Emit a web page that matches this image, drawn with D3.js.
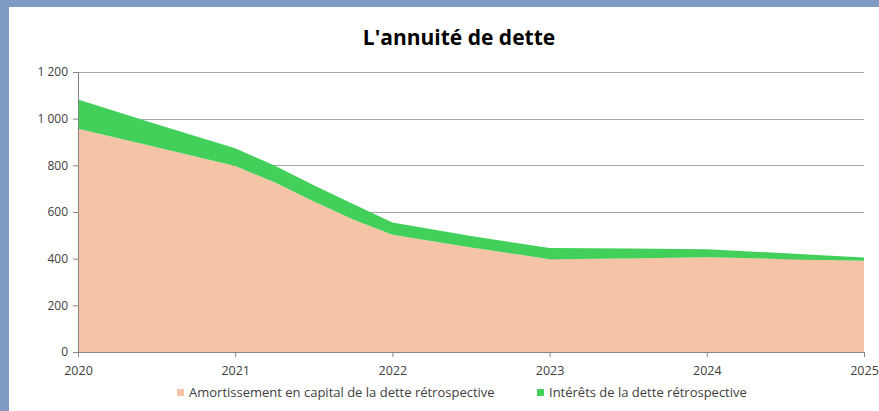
<!DOCTYPE html>
<html>
<head>
<meta charset="utf-8">
<script src="https://cdn.jsdelivr.net/npm/d3@7"></script>
<style>
  html, body { margin: 0; padding: 0; background: #7f9bc3; }
  svg { display: block; }
  .tick text { font-family: "Open Sans", sans-serif; fill: #404040; }
</style>
</head>
<body>
<svg id="chart"></svg>
<script>
// time points (years)
var years = [2020, 2020.5, 2021, 2021.25, 2021.5, 2021.75, 2022, 2022.5, 2023, 2023.5, 2024, 2024.5, 2025];
var amortissement = [957, 878, 797, 727, 645, 568, 503, 448, 398, 401, 406, 398, 391];
var interets = [125, 98, 76, 72, 70, 66, 52, 49, 48, 43, 34, 25, 14];
var xTicks = [2020, 2021, 2022, 2023, 2024, 2025];
var yTicks = [0, 200, 400, 600, 800, 1000, 1200];
var seriesNames = ["Amortissement en capital de la dette rétrospective", "Intérêts de la dette rétrospective"];
var colors = ["#f5c4a7", "#43d05a"];

var W = 879, H = 411;
var margin = { top: 72, right: 15, bottom: 59, left: 78 },
    width = W - margin.left - margin.right,
    height = H - margin.top - margin.bottom;

var svg = d3.select("#chart").attr("width", W).attr("height", H);

// white chart panel inside the blue frame
svg.append("rect")
    .attr("x", 9).attr("y", 7)
    .attr("width", W - 9).attr("height", H - 7)
    .attr("fill", "#fff");

svg.append("text")
    .attr("x", 459).attr("y", 45)
    .attr("text-anchor", "middle")
    .style("font-family", "Open Sans, sans-serif")
    .style("font-weight", "bold")
    .style("font-size", "21px")
    .attr("fill", "#000")
    .text("L'annuité de dette");

var g = svg.append("g").attr("transform", "translate(" + margin.left + "," + margin.top + ")");

var x = d3.scaleLinear().domain([2020, 2025]).range([0, width]);
var y = d3.scaleLinear().domain([0, 1200]).range([height, 0]);

// gridlines
g.append("g")
    .selectAll("line")
    .data(yTicks.filter(d => d > 0))
    .enter().append("line")
    .attr("x1", 0).attr("x2", width)
    .attr("y1", d => Math.round(y(d)) + 0.5).attr("y2", d => Math.round(y(d)) + 0.5)
    .attr("stroke", "#a6a6a6");

var data = years.map((yr, i) => ({ year: yr, a: amortissement[i], b: interets[i] }));
var stacked = d3.stack().keys(["a", "b"])(data);

var area = d3.area()
    .x(d => x(d.data.year))
    .y0(d => y(d[0]))
    .y1(d => y(d[1]));

g.selectAll(".layer")
    .data(stacked)
    .enter().append("path")
    .attr("class", "layer")
    .attr("fill", (d, i) => colors[i])
    .attr("d", area);

// axes
var yAxis = g.append("g")
    .call(d3.axisLeft(y).tickValues(yTicks).tickSize(5).tickPadding(5)
        .tickFormat(d => d3.format(",")(d).replace(",", " ")))
    .call(a => a.select(".domain").attr("stroke", "#868686").attr("d", "M0.5," + height + "V0"));
yAxis.selectAll(".tick line").attr("stroke", "#868686");
yAxis.selectAll(".tick text").style("font-size", "12px");

var xAxis = g.append("g")
    .attr("transform", "translate(0," + height + ")")
    .call(d3.axisBottom(x).tickValues(xTicks).tickSize(5).tickPadding(9).tickFormat(d3.format("d")))
    .call(a => a.select(".domain").attr("stroke", "#868686").attr("d", "M0,0.5H" + width));
xAxis.selectAll(".tick line").attr("stroke", "#868686");
xAxis.selectAll(".tick text").style("font-size", "12.5px");

// legend
var legendX = [177, 537];
var legend = svg.selectAll(".legend")
    .data(seriesNames)
    .enter().append("g")
    .attr("transform", (d, i) => "translate(" + legendX[i] + ",393)");
legend.append("rect")
    .attr("x", 0).attr("y", -4)
    .attr("width", 7).attr("height", 7)
    .attr("fill", (d, i) => colors[i]);
legend.append("text")
    .attr("x", 12).attr("y", 4)
    .style("font-family", "Open Sans, sans-serif")
    .style("font-size", "13px")
    .attr("fill", "#404040")
    .text(d => d);
</script>
</body>
</html>
